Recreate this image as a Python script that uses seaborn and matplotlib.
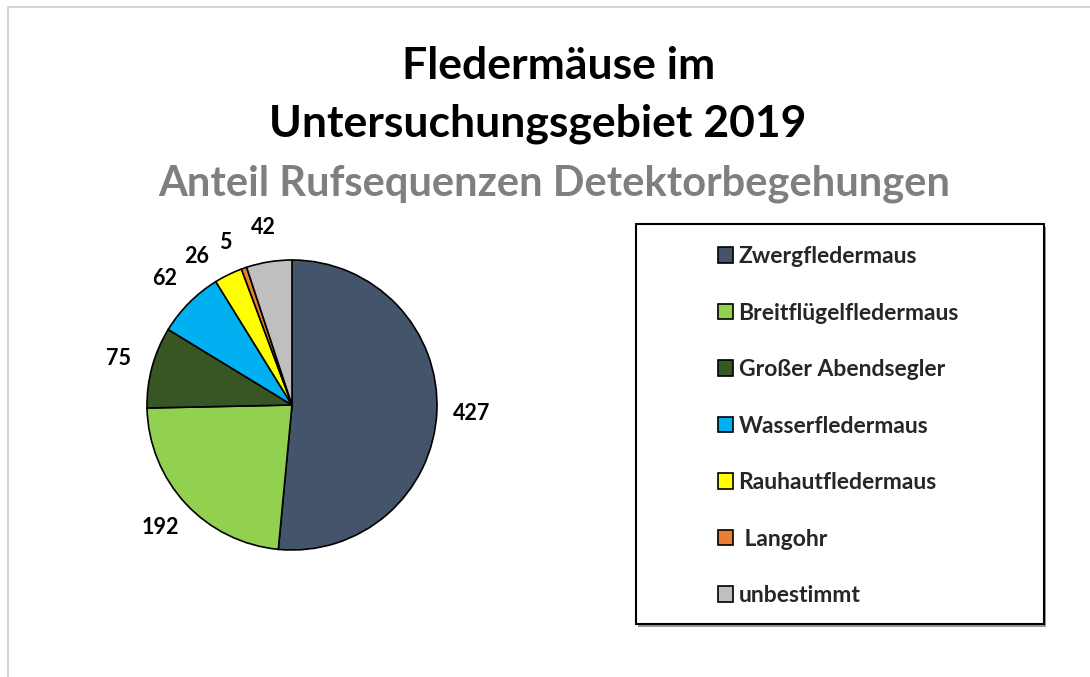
import seaborn as sns
import matplotlib.pyplot as plt
from matplotlib.lines import Line2D
from matplotlib.patches import Rectangle

# Daten
arten = ['Zwergfledermaus', 'Breitflügelfledermaus', 'Großer Abendsegler',
         'Wasserfledermaus', 'Rauhautfledermaus', ' Langohr', 'unbestimmt']
anzahl = [427, 192, 75, 62, 26, 5, 42]
farben = ['#44546A', '#92D050', '#375623', '#00B0F0', '#FFFF00', '#ED7D31', '#BFBFBF']

sns.set_theme(style='white')
plt.rcParams['font.family'] = ['Lato', 'DejaVu Sans']

fig = plt.figure(figsize=(10.9, 6.77), dpi=100)
W, H = 1090, 677

# hellgrauer Rahmen (abgeschnitten)
fig.add_artist(Line2D([8 / W, 8 / W, 1], [0, 1 - 7 / H, 1 - 7 / H],
                      color='#d4d4d4', lw=1.5, transform=fig.transFigure))

# Titel
fig.text(559 / W, 1 - 66 / H, 'Fledermäuse im', ha='center', va='center',
         fontsize=32, fontweight='bold', color='black')
fig.text(538 / W, 1 - 124 / H, 'Untersuchungsgebiet 2019', ha='center', va='center',
         fontsize=32, fontweight='bold', color='black')
fig.text(554 / W, 1 - 184 / H, 'Anteil Rufsequenzen Detektorbegehungen', ha='center',
         va='center', fontsize=30, fontweight='bold', color='#7f7f7f')

# Kreisdiagramm
cx, cy, r = 292, 405, 145
ax = fig.add_axes([(cx - r) / W, (H - cy - r) / H, 2 * r / W, 2 * r / H])
wedges, texts = ax.pie(anzahl, labels=[str(v) for v in anzahl], colors=farben,
                       startangle=90, counterclock=False, labeldistance=1.24,
                       wedgeprops=dict(edgecolor='black', linewidth=1.2),
                       textprops=dict(fontsize=15.5, fontweight='bold', color='black'))
for t in texts:
    t.set_ha('center')
    t.set_va('center')
# kleine Segmente: Beschriftungen etwas auseinanderziehen
for i, (dx, dy) in {4: (-0.11, -0.09), 5: (-0.05, -0.05)}.items():
    x, y = texts[i].get_position()
    texts[i].set_position((x + dx, y + dy))
ax.set_xlim(-1, 1)
ax.set_ylim(-1, 1)
ax.set_aspect('equal')

# Legende mit Rahmen
fig.add_artist(Rectangle((638 / W, 1 - 627 / H), 408 / W, 400 / H,
                         transform=fig.transFigure, facecolor='#9a9a9a',
                         edgecolor='none', zorder=1))
fig.add_artist(Rectangle((636 / W, 1 - 624 / H), 408 / W, 400 / H,
                         transform=fig.transFigure, facecolor='white',
                         edgecolor='black', lw=1.5, zorder=2))
leg = fig.legend(wedges, arten, loc='upper left', bbox_to_anchor=(718 / W, 1 - 246 / H),
                 frameon=False, handlelength=0.65, handleheight=0.65, handletextpad=0.25,
                 labelspacing=1.55, borderpad=0, borderaxespad=0,
                 prop=dict(size=16.5, weight='bold'))
leg.set_zorder(3)
for h in leg.legend_handles:
    h.set_edgecolor('black')
    h.set_linewidth(1.2)

fig.savefig('out.png', dpi=100)
